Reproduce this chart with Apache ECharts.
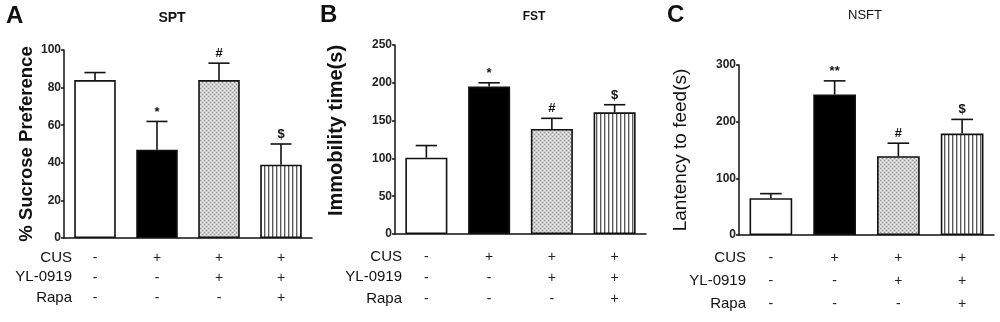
<!DOCTYPE html>
<html>
<head>
<meta charset="utf-8">
<style>
  html, body { margin: 0; padding: 0; background: #fff; }
  #main { width: 1000px; height: 322px; }
</style>
<script src="https://cdn.jsdelivr.net/npm/echarts@6/dist/echarts.min.js"></script>
</head>
<body>
<div id="main"></div>
<script>
  // groups and the +/- table under each panel
  var groups = ['Control', 'CUS', 'CUS+YL-0919', 'CUS+YL-0919+Rapa'];
  var rowNames = ['CUS', 'YL-0919', 'Rapa'];
  var cusRow = ['-', '+', '+', '+'];
  var ylRow = ['-', '-', '+', '+'];
  var rapaRow = ['-', '-', '-', '+'];

  // A: SPT
  var sptMean = [84, 47, 84, 39];
  var sptErr = [4, 15, 9, 11];
  var sptSig = ['', '*', '#', '$'];
  // B: FST
  var fstMean = [101, 195, 139, 161];
  var fstErr = [16, 5, 14, 10];
  var fstSig = ['', '*', '#', '$'];
  // C: NSFT
  var nsftMean = [65, 248, 139, 179];
  var nsftErr = [8, 24, 23, 25];
  var nsftSig = ['', '**', '#', '$'];

  // y axis ranges [max, interval]
  var sptAxis = [100, 20];
  var fstAxis = [250, 50];
  var nsftAxis = [300, 100];

  var FONT = 'Liberation Sans, Arial, sans-serif';

  // fill patterns
  function makeDots () {
    var c = document.createElement('canvas');
    c.width = 4; c.height = 4;
    var g = c.getContext('2d');
    g.fillStyle = '#cfcfcf';
    g.fillRect(0, 0, 4, 4);
    g.fillStyle = '#8a8a8a';
    g.fillRect(0, 0, 1, 1);
    g.fillRect(2, 2, 1, 1);
    g.fillStyle = '#ffffff';
    g.fillRect(2, 0, 1, 1);
    g.fillRect(0, 2, 1, 1);
    return c;
  }
  function makeStripes () {
    var c = document.createElement('canvas');
    c.width = 4; c.height = 4;
    var g = c.getContext('2d');
    g.fillStyle = '#ffffff';
    g.fillRect(0, 0, 4, 4);
    g.fillStyle = '#5a5a5a';
    g.fillRect(0, 0, 1, 4);
    g.fillStyle = '#c4c4c4';
    g.fillRect(1, 0, 1, 4);
    return c;
  }
  var fills = ['#ffffff', '#000000', {image: makeDots(), repeat: 'repeat'}, {image: makeStripes(), repeat: 'repeat'}];

  var panels = [
    {mean: sptMean, err: sptErr, sig: sptSig, axis: sptAxis, name: '% Sucrose Preference', nameSize: 18.5, nameBold: true, nameGap: 28, namePad: 0,
      grid: {left: 64, top: 50, width: 248, height: 188}, margin: 10, lineHeight: 20},
    {mean: fstMean, err: fstErr, sig: fstSig, axis: fstAxis, name: 'Immobility time(s)', nameSize: 20, nameBold: true, nameGap: 49, namePad: 18,
      grid: {left: 395, top: 45, width: 251, height: 189}, margin: 13, lineHeight: 21},
    {mean: nsftMean, err: nsftErr, sig: nsftSig, axis: nsftAxis, name: 'Lantency to feed(s)', nameSize: 19, nameBold: false, nameGap: 49, namePad: 0,
      grid: {left: 739, top: 65, width: 255, height: 170}, margin: 12, lineHeight: 23}
  ];

  var grids = [], xAxes = [], yAxes = [], series = [];
  panels.forEach(function (p, k) {
    grids.push(p.grid);
    xAxes.push({
      type: 'category',
      gridIndex: k,
      data: groups,
      axisLine: {lineStyle: {color: '#111', width: 1.5}},
      axisTick: {show: false},
      axisLabel: {
        interval: 0,
        margin: p.margin,
        lineHeight: p.lineHeight,
        fontSize: 14,
        fontFamily: FONT,
        color: '#222',
        formatter: function (v, i) {
          return cusRow[i] + '\n' + ylRow[i] + '\n' + rapaRow[i];
        }
      }
    });
    yAxes.push({
      type: 'value',
      gridIndex: k,
      min: 0,
      max: p.axis[0],
      interval: p.axis[1],
      name: p.name,
      nameLocation: 'middle',
      nameGap: p.nameGap,
      nameTextStyle: {fontSize: p.nameSize, fontWeight: p.nameBold ? 'bold' : 'normal', fontFamily: FONT, color: '#111',
        padding: [0, 0, 0, p.namePad]},
      axisLine: {show: true, lineStyle: {color: '#111', width: 1.5}},
      axisTick: {show: true, length: 3, lineStyle: {color: '#111', width: 1.5}},
      axisLabel: {fontSize: 12, fontWeight: 'bold', fontFamily: FONT, color: '#222', margin: 3},
      splitLine: {show: false}
    });
    series.push({
      type: 'bar',
      xAxisIndex: k,
      yAxisIndex: k,
      barWidth: '67%',
      itemStyle: {borderColor: '#111', borderWidth: 1.6},
      data: p.mean.map(function (v, i) {
        return {value: v, itemStyle: {color: fills[i]}};
      })
    });
    series.push({
      type: 'custom',
      xAxisIndex: k,
      yAxisIndex: k,
      z: 5,
      data: p.mean.map(function (v, i) { return [i, v, v + p.err[i]]; }),
      renderItem: function (params, api) {
        var i = api.value(0);
        var base = api.coord([i, api.value(1)]);
        var top = api.coord([i, api.value(2)]);
        var half = api.size([1, 0])[0] * 0.17;
        var s = p.sig[params.dataIndex];
        var kids = [
          {type: 'line', shape: {x1: base[0], y1: base[1], x2: top[0], y2: top[1]}, style: {stroke: '#111', lineWidth: 1.6}},
          {type: 'line', shape: {x1: top[0] - half, y1: top[1], x2: top[0] + half, y2: top[1]}, style: {stroke: '#111', lineWidth: 1.6}}
        ];
        if (s) {
          kids.push({
            type: 'text', x: top[0], y: top[1] - 3,
            style: {text: s, fill: '#111', font: 'bold 13px ' + FONT, align: 'center', verticalAlign: 'bottom', textAlign: 'center', textVerticalAlign: 'bottom'}
          });
        }
        return {type: 'group', children: kids};
      }
    });
  });

  // panel letters, test titles and table row names
  function txt (x, y, s, font, align) {
    return {type: 'text', x: x, y: y, style: {text: s, font: font, fill: '#111', align: align, verticalAlign: 'middle', textAlign: align, textVerticalAlign: 'middle'}};
  }
  var graphics = [
    txt(6, 16, 'A', 'bold 24px ' + FONT, 'left'),
    txt(320, 15, 'B', 'bold 24px ' + FONT, 'left'),
    txt(667, 15, 'C', 'bold 24px ' + FONT, 'left'),
    txt(172, 18, 'SPT', 'bold 14px ' + FONT, 'center'),
    txt(534, 17, 'FST', 'bold 12px ' + FONT, 'center'),
    txt(865, 15, 'NSFT', '13px ' + FONT, 'center')
  ];
  var rowY = [[258, 277, 298], [257, 277, 299], [258, 281, 304]];
  var rowX = [72, 402, 746];
  rowNames.forEach(function (n, r) {
    for (var k = 0; k < 3; k++) {
      graphics.push(txt(rowX[k], rowY[k][r], n, '15px ' + FONT, 'right'));
    }
  });

  var chart = echarts.init(document.getElementById('main'));
  chart.setOption({
    animation: false,
    grid: grids,
    xAxis: xAxes,
    yAxis: yAxes,
    series: series,
    graphic: graphics
  });
</script>
</body>
</html>
